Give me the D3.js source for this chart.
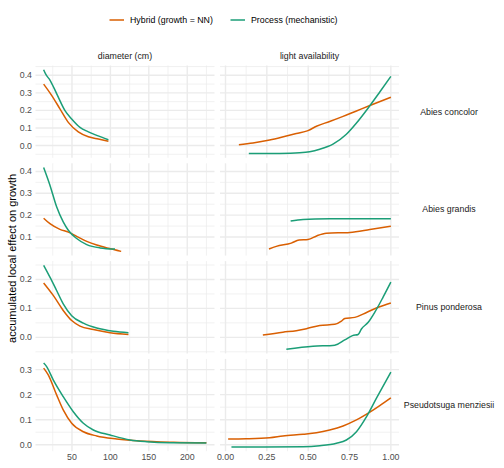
<!DOCTYPE html>
<html>
<head>
<meta charset="utf-8">
<script src="https://cdn.jsdelivr.net/npm/d3@7"></script>
<style>
  html, body { margin: 0; padding: 0; background: #fff; }
  svg { display: block; font-family: "Liberation Sans", Arial, sans-serif; }
</style>
</head>
<body>
<svg id="chart" width="504" height="468"></svg>
<script>
// facets
const species = ['Abies concolor', 'Abies grandis', 'Pinus ponderosa', 'Pseudotsuga menziesii'];
const variables = ['diameter (cm)', 'light availability'];
const models = ['Hybrid (growth = NN)', 'Process (mechanistic)'];
const modelColors = ['#D95F02', '#1B9E77'];

// tick labels
const diamTicks = [50, 100, 150, 200];
const lightTicks = [0, 0.25, 0.5, 0.75, 1];
const rowTicks = [
  [0, 0.1, 0.2, 0.3, 0.4],
  [0.1, 0.2, 0.3, 0.4],
  [0, 0.1, 0.2],
  [0, 0.1, 0.2, 0.3]
];

// ALE curves, [value, effect]
const abcoDiamHybrid = [[13.1, 0.350], [23.5, 0.286], [34.3, 0.209], [45.2, 0.132], [58.2, 0.078], [71.3, 0.050], [84.3, 0.037], [97.4, 0.025]];
const abcoDiamProcess = [[13.1, 0.432], [16, 0.405], [21.3, 0.373], [30, 0.296], [40.9, 0.199], [49.6, 0.151], [60.4, 0.103], [71.3, 0.078], [82.2, 0.058], [97.4, 0.033]];
const abcoLightHybrid = [[0.081, 0.004], [0.166, 0.014], [0.267, 0.031], [0.368, 0.054], [0.428, 0.068], [0.499, 0.085], [0.55, 0.110], [0.63, 0.137], [0.711, 0.166], [0.792, 0.197], [0.873, 0.228], [1.0, 0.275]];
const abcoLightProcess = [[0.141, -0.046], [0.327, -0.045], [0.448, -0.041], [0.509, -0.035], [0.570, -0.021], [0.65, 0.008], [0.731, 0.064], [0.792, 0.128], [0.863, 0.214], [0.933, 0.305], [1.0, 0.394]];

const abgrDiamHybrid = [[13.1, 0.186], [21.3, 0.161], [34.3, 0.135], [45.2, 0.122], [56.1, 0.103], [69.2, 0.080], [82.2, 0.063], [97.4, 0.048], [114, 0.034]];
const abgrDiamProcess = [[13.1, 0.418], [21.3, 0.337], [30, 0.238], [38.6, 0.169], [45.2, 0.131], [56.1, 0.093], [69.2, 0.065], [86.6, 0.050], [106, 0.045]];
const abgrLightHybrid = [[0.263, 0.045], [0.307, 0.057], [0.398, 0.072], [0.445, 0.086], [0.499, 0.088], [0.554, 0.106], [0.61, 0.117], [0.752, 0.121], [0.873, 0.134], [1.0, 0.149]];
const abgrLightProcess = [[0.394, 0.173], [0.469, 0.180], [0.630, 0.183], [1.0, 0.184]];

const pipoDiamHybrid = [[13.1, 0.188], [25.6, 0.145], [38.6, 0.093], [49.6, 0.058], [60.4, 0.039], [77.8, 0.027], [99.6, 0.016], [123.5, 0.010]];
const pipoDiamProcess = [[13.1, 0.249], [21.3, 0.208], [30, 0.162], [38.6, 0.116], [49.6, 0.075], [64.8, 0.049], [82.2, 0.032], [103.9, 0.021], [123.5, 0.016]];
const pipoLightHybrid = [[0.226, 0.008], [0.347, 0.018], [0.428, 0.023], [0.489, 0.030], [0.570, 0.041], [0.661, 0.045], [0.701, 0.056], [0.721, 0.065], [0.782, 0.069], [0.853, 0.086], [0.923, 0.104], [1.0, 0.119]];
const pipoLightProcess = [[0.368, -0.041], [0.529, -0.031], [0.661, -0.027], [0.721, -0.009], [0.768, 0.006], [0.802, 0.010], [0.822, 0.029], [0.863, 0.052], [0.903, 0.087], [0.953, 0.139], [1.0, 0.191]];

const psmeDiamHybrid = [[13.1, 0.306], [19.1, 0.279], [30, 0.199], [38.6, 0.139], [49.6, 0.086], [64.8, 0.052], [82.2, 0.035], [108.3, 0.023], [138.8, 0.015], [182.2, 0.010], [224.9, 0.008]];
const psmeDiamProcess = [[13.1, 0.326], [17, 0.312], [25.6, 0.259], [38.6, 0.192], [51.7, 0.132], [64.8, 0.086], [77.8, 0.059], [99.6, 0.039], [125.7, 0.019], [147.5, 0.012], [177.9, 0.008], [224.9, 0.007]];
const psmeLightHybrid = [[0.016, 0.023], [0.125, 0.024], [0.267, 0.028], [0.347, 0.035], [0.469, 0.042], [0.55, 0.048], [0.630, 0.059], [0.711, 0.075], [0.792, 0.099], [0.873, 0.130], [0.933, 0.156], [1.0, 0.187]];
const psmeLightProcess = [[0.036, -0.009], [0.226, -0.009], [0.469, -0.008], [0.570, -0.004], [0.671, 0.006], [0.731, 0.019], [0.792, 0.052], [0.853, 0.112], [0.913, 0.186], [1.0, 0.290]];

// [row][col][model]
const curves = [
  [[abcoDiamHybrid, abcoDiamProcess], [abcoLightHybrid, abcoLightProcess]],
  [[abgrDiamHybrid, abgrDiamProcess], [abgrLightHybrid, abgrLightProcess]],
  [[pipoDiamHybrid, pipoDiamProcess], [pipoLightHybrid, pipoLightProcess]],
  [[psmeDiamHybrid, psmeDiamProcess], [psmeLightHybrid, psmeLightProcess]]
];

const conf = {
  left: 35.5, top: 65.5, panelW: 179, panelH: 92.3, gap: 5.5,
  grid: '#EBEBEB', axisText: '#4D4D4D', strip: '#1A1A1A'
};

const svg = d3.select('#chart');

// ggplot-like 5% expansion
const expand = (ext) => {
  const pad = (ext[1] - ext[0]) * 0.05;
  return [ext[0] - pad, ext[1] + pad];
};
const minorsOf = (majors, domain) => {
  const step = majors[1] - majors[0];
  let out = [];
  for (let v = majors[0] - step * 1.5; v <= majors[majors.length - 1] + step * 1.5 + 1e-9; v += step / 2) {
    let k = Math.round((v - majors[0]) / (step / 2));
    if (k % 2 !== 0 && v >= domain[0] && v <= domain[1]) out.push(v);
  }
  return out;
};

// x scales shared per column
const colTicks = [diamTicks, lightTicks];
const xScales = [0, 1].map(function (c) {
  let all = [];
  curves.forEach(function (row) { row[c].forEach(function (s) { all = all.concat(s.map(d => d[0])); }); });
  const x0 = conf.left + c * (conf.panelW + conf.gap);
  return d3.scaleLinear().domain(expand(d3.extent(all))).range([x0, x0 + conf.panelW]);
});

// y scales free per row
const yScales = curves.map(function (row, r) {
  let all = [];
  row.forEach(function (col) { col.forEach(function (s) { all = all.concat(s.map(d => d[1])); }); });
  const y0 = conf.top + r * (conf.panelH + conf.gap);
  return d3.scaleLinear().domain(expand(d3.extent(all))).range([y0 + conf.panelH, y0]);
});

const line = (x, y) => d3.line().x(d => x(d[0])).y(d => y(d[1])).curve(d3.curveMonotoneX);

const panels = svg.append('g').classed('panels', true);
species.forEach(function (sp, r) {
  const y = yScales[r];
  const yMin = minorsOf(rowTicks[r], y.domain());
  [0, 1].forEach(function (c) {
    const x = xScales[c];
    const xMin = minorsOf(colTicks[c], x.domain());
    const g = panels.append('g').classed('panel', true);
    // minor grid
    g.selectAll('.vminor').data(xMin).enter().append('line')
      .attr('x1', d => x(d)).attr('x2', d => x(d))
      .attr('y1', y.range()[0]).attr('y2', y.range()[1])
      .attr('stroke', conf.grid).attr('stroke-width', 0.7);
    g.selectAll('.hminor').data(yMin).enter().append('line')
      .attr('y1', d => y(d)).attr('y2', d => y(d))
      .attr('x1', x.range()[0]).attr('x2', x.range()[1])
      .attr('stroke', conf.grid).attr('stroke-width', 0.7);
    // major grid
    g.selectAll('.vmajor').data(colTicks[c]).enter().append('line')
      .attr('x1', d => x(d)).attr('x2', d => x(d))
      .attr('y1', y.range()[0]).attr('y2', y.range()[1])
      .attr('stroke', conf.grid).attr('stroke-width', 1.4);
    g.selectAll('.hmajor').data(rowTicks[r]).enter().append('line')
      .attr('y1', d => y(d)).attr('y2', d => y(d))
      .attr('x1', x.range()[0]).attr('x2', x.range()[1])
      .attr('stroke', conf.grid).attr('stroke-width', 1.4);
    // curves
    curves[r][c].forEach(function (s, m) {
      g.append('path').datum(s)
        .attr('d', line(x, y))
        .attr('fill', 'none')
        .attr('stroke', modelColors[m])
        .attr('stroke-width', 1.5)
        .attr('stroke-linejoin', 'round');
    });
  });
  // y axis labels
  svg.append('g').selectAll('text').data(rowTicks[r]).enter().append('text')
    .attr('x', conf.left - 3.5).attr('y', d => y(d))
    .attr('text-anchor', 'end').attr('dominant-baseline', 'central')
    .attr('font-size', 8.8).attr('fill', conf.axisText)
    .text(d => d.toFixed(1));
  // right strip
  svg.append('text')
    .attr('x', 449).attr('y', (y.range()[0] + y.range()[1]) / 2)
    .attr('text-anchor', 'middle').attr('dominant-baseline', 'central')
    .attr('font-size', 8.8).attr('fill', conf.strip)
    .text(sp);
});

// x axis labels and top strips
const bottom = yScales[3].range()[0];
[0, 1].forEach(function (c) {
  const x = xScales[c];
  svg.append('g').selectAll('text').data(colTicks[c]).enter().append('text')
    .attr('x', d => x(d)).attr('y', bottom + 9)
    .attr('text-anchor', 'middle')
    .attr('font-size', 8.8).attr('fill', conf.axisText)
    .text(d => c === 0 ? d : d.toFixed(2));
  svg.append('text')
    .attr('x', (x.range()[0] + x.range()[1]) / 2).attr('y', conf.top - 9.5)
    .attr('text-anchor', 'middle').attr('dominant-baseline', 'central')
    .attr('font-size', 8.8).attr('fill', conf.strip)
    .text(variables[c]);
});

// y title
svg.append('text')
  .attr('transform', 'translate(12,' + ((conf.top + bottom) / 2) + ') rotate(-90)')
  .attr('text-anchor', 'middle').attr('dominant-baseline', 'central')
  .attr('font-size', 11).attr('fill', '#000')
  .text('accumulated local effect on growth');

// legend
const legendX = [109.5, 230.5];
const legend = svg.append('g').classed('legend', true);
models.forEach(function (m, i) {
  legend.append('line')
    .attr('x1', legendX[i]).attr('x2', legendX[i] + 14.5)
    .attr('y1', 20).attr('y2', 20)
    .attr('stroke', modelColors[i]).attr('stroke-width', 1.5);
  legend.append('text')
    .attr('x', legendX[i] + 20.5).attr('y', 20)
    .attr('dominant-baseline', 'central')
    .attr('font-size', 8.8).attr('fill', '#000')
    .text(m);
});
</script>
</body>
</html>
